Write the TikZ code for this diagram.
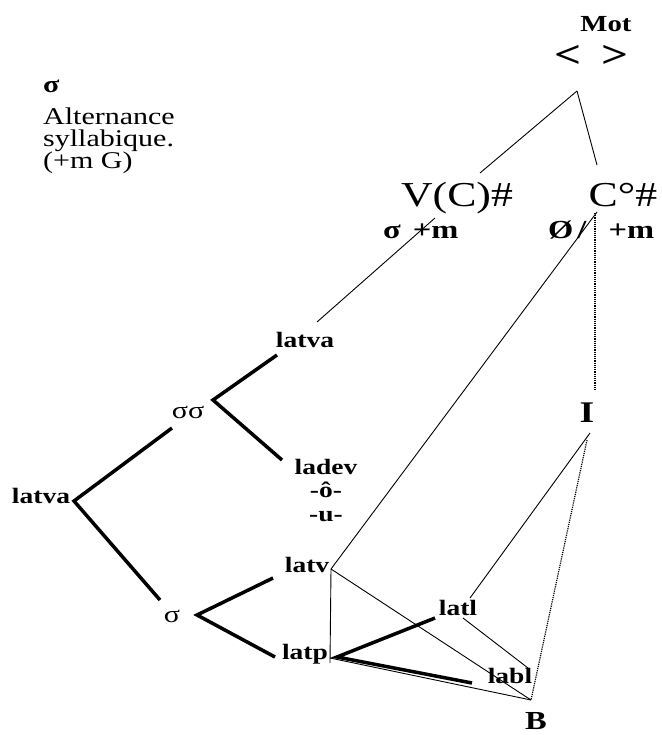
\documentclass[tikz,border=0pt]{standalone}
\usepackage{fontspec}
\setmainfont{Liberation Serif}[FakeStretch=1.25]
\newcommand{\taille}[1]{\fontsize{#1}{#1}\selectfont}

\begin{document}
\begin{tikzpicture}[x=1pt,y=-1pt,
    mot/.style={inner sep=0pt,anchor=base,font=\bfseries\taille{22}},
    fin/.style={line width=0.9pt},
    gras/.style={line width=3.5pt},
    pointille/.style={line width=1.2pt,densely dotted}]
  \useasboundingbox (0,0) rectangle (661,735);

  % legende
  \node[mot,anchor=base west,font=\bfseries\taille{24}] (sigleg) at (43,93) {σ};
  \node[inner sep=0pt,anchor=north west,align=left,font=\fontsize{24}{22}\selectfont] (alt) at (43,107.5) {Alternance\\syllabique.\\(+m G)};

  % haut
  \node[mot,font=\bfseries\taille{23}] (mot) at (606,32) {Mot};
  \node[mot,anchor=base west,font=\bfseries\taille{38}] (chevrons) at (554,68) {<\hspace{20pt}>};
  \node[mot,font=\taille{35}] (vc) at (457,207) {V(C)\#};
  \node[mot,font=\taille{35}] (co) at (623,207) {C°\#};
  \node[mot,anchor=base west,font=\bfseries\taille{26}] (sigm) at (383,238) {σ\hspace{12pt}+m};
  \node[mot,anchor=base west,font=\bfseries\taille{26}] (nul) at (548,238) {Ø\hspace{4pt}/\hspace{22pt}+m};

  % arbre
  \node[mot] (latvaH) at (305,347) {latva};
  \node[mot,font=\taille{24}] (sigsig) at (188,418) {σσ};
  \node[mot,anchor=north,align=center,font=\bfseries\fontsize{22}{23.5}\selectfont] (ladev) at (326,459) {ladev\\-ô-\\-u-};
  \node[mot] (latvaG) at (41,503) {latva};
  \node[mot,font=\taille{24}] (sig) at (172,622) {σ};
  \node[mot] (latv) at (307,572) {latv};
  \node[mot] (latp) at (305,659) {latp};
  \node[mot] (latl) at (458,615) {latl};
  \node[mot] (labl) at (510,683) {labl};
  \node[mot,font=\bfseries\taille{30}] (I) at (587,422) {I};
  \node[mot,font=\bfseries\taille{26}] (B) at (536,729) {B};

  % points d'attache
  \coordinate (motbas) at (577,91);
  \coordinate (vchaut) at (480,173);
  \coordinate (cohaut) at (597,165);
  \coordinate (vcbas) at (435,218);
  \coordinate (cobas) at (597,212);
  \coordinate (copt) at (595,213);
  \coordinate (latvaHh) at (317,322);
  \coordinate (latvaHg) at (277,355);
  \coordinate (sigsigd) at (213,400);
  \coordinate (sigsigb) at (172,428);
  \coordinate (ladevg) at (282,460);
  \coordinate (latvaGd) at (74,501);
  \coordinate (sigh) at (160,600);
  \coordinate (sigd) at (197,615);
  \coordinate (latvg) at (273,578);
  \coordinate (latpg) at (275,657);
  \coordinate (latvd) at (331,569);
  \coordinate (latpv) at (330,663);
  \coordinate (latpd) at (330,658);
  \coordinate (latpe) at (337,657);
  \coordinate (latlg) at (435,618);
  \coordinate (latlb) at (463,618);
  \coordinate (latlh) at (470,598);
  \coordinate (lablg) at (472,683);
  \coordinate (lablh) at (528,668);
  \coordinate (Ih) at (595,390);
  \coordinate (Ib) at (590,433);
  \coordinate (Ibp) at (587,440);
  \coordinate (Bh) at (531,700);

  % traits fins
  \draw[fin] (motbas) -- (vchaut);
  \draw[fin] (motbas) -- (cohaut);
  \draw[fin] (vcbas) -- (latvaHh);
  \draw[fin] (cobas) -- (latvd);
  \draw[fin] (latvd) -- (latpv);
  \draw[fin] (latvd) -- (Bh);
  \draw[fin] (latpd) -- (Bh);
  \draw[fin] (latlb) -- (lablh);
  \draw[fin] (Ib) -- (latlh);
  \draw[pointille] (copt) -- (Ih);
  \draw[pointille] (Ibp) -- (Bh);

  % traits gras
  \draw[gras] (latvaHg) -- (sigsigd) -- (ladevg);
  \draw[gras] (sigsigb) -- (latvaGd) -- (sigh);
  \draw[gras] (latvg) -- (sigd) -- (latpg);
  \draw[gras] (latlg) -- (latpe) -- (lablg);
\end{tikzpicture}
\end{document}
